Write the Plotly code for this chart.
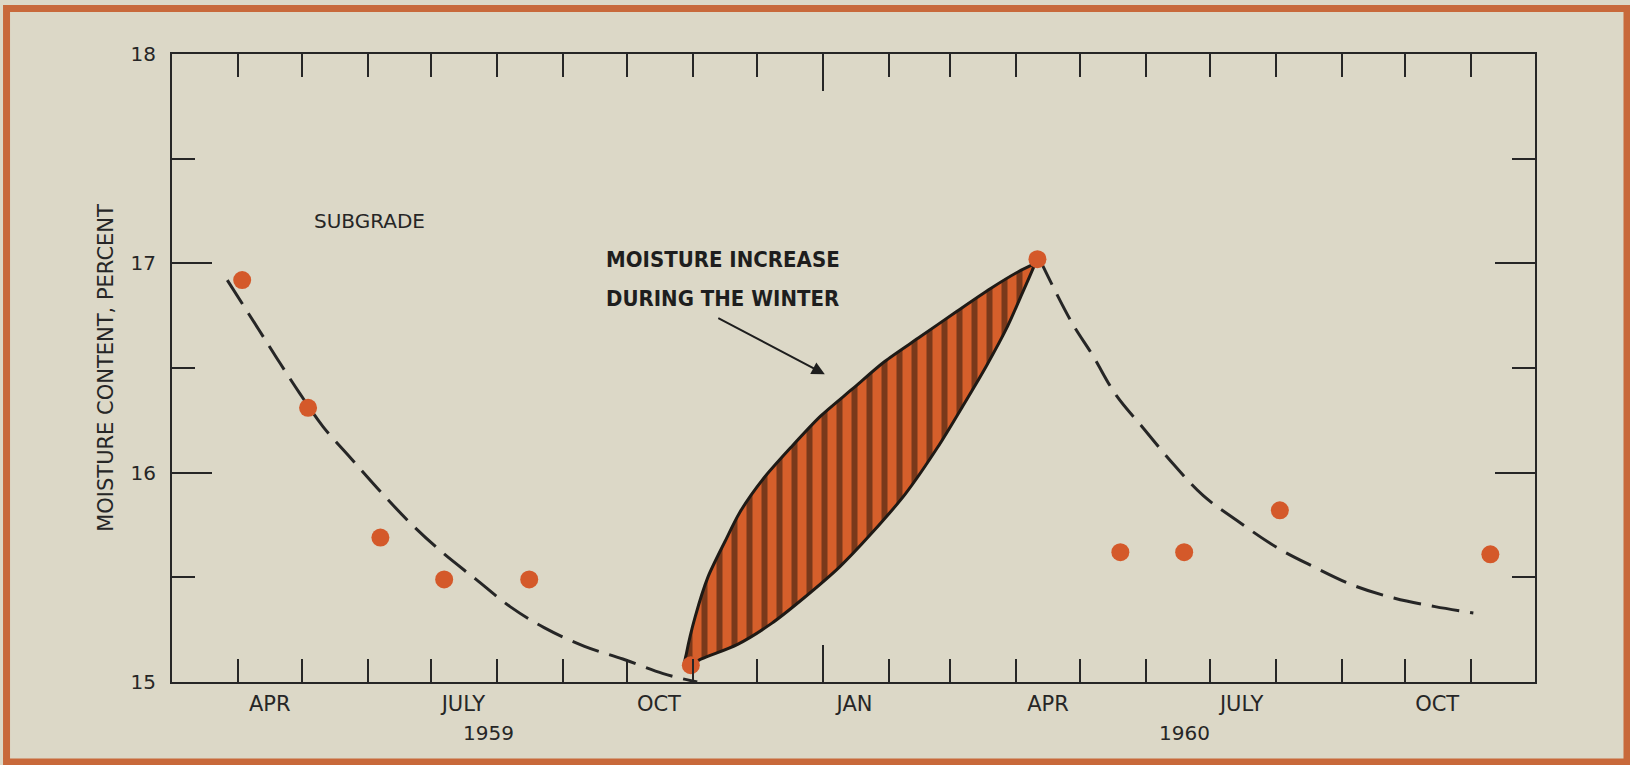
import plotly.graph_objects as go

# ---- data ----
point_dates = ["1959-04-03", "1959-05-04", "1959-06-07", "1959-07-07", "1959-08-16",
               "1959-10-31", "1960-04-11", "1960-05-20", "1960-06-19", "1960-08-03", "1960-11-10"]
point_values = [16.92, 16.31, 15.69, 15.49, 15.49, 15.08, 17.02, 15.62, 15.62, 15.82, 15.61]

trend1_dates = ["1959-03-27", "1959-04-11", "1959-04-21", "1959-04-30", "1959-05-11", "1959-05-24",
                "1959-06-07", "1959-06-22", "1959-07-06", "1959-07-22", "1959-08-07", "1959-08-23",
                "1959-09-11", "1959-09-29", "1959-10-18", "1959-11-03"]
trend1_values = [16.92, 16.68, 16.52, 16.38, 16.22, 16.07, 15.91, 15.75, 15.62, 15.49, 15.36, 15.26,
                 15.17, 15.11, 15.04, 15.00]

trend2_dates = ["1960-04-12", "1960-04-27", "1960-05-07", "1960-05-18", "1960-05-31", "1960-06-14",
                "1960-06-28", "1960-07-14", "1960-08-02", "1960-08-19", "1960-09-07", "1960-09-26",
                "1960-10-15", "1960-11-02"]
trend2_values = [17.02, 16.72, 16.56, 16.37, 16.21, 16.04, 15.89, 15.77, 15.64, 15.55, 15.46, 15.40,
                 15.36, 15.33]

winter_upper_dates = ["1959-10-28", "1959-10-29", "1959-11-02", "1959-11-08", "1959-11-16", "1959-11-23",
                      "1959-12-04", "1959-12-17", "1959-12-31", "1960-01-15", "1960-01-30", "1960-02-16",
                      "1960-03-04", "1960-03-20", "1960-04-02", "1960-04-10"]
winter_upper_values = [15.07, 15.14, 15.31, 15.50, 15.67, 15.81, 15.97, 16.12, 16.27, 16.40, 16.53, 16.65,
                       16.77, 16.88, 16.96, 17.00]
winter_lower_dates = ["1959-10-28", "1959-11-05", "1959-11-22", "1959-12-08", "1959-12-23", "1960-01-09",
                      "1960-01-24", "1960-02-09", "1960-02-24", "1960-03-07", "1960-03-18", "1960-03-28",
                      "1960-04-04", "1960-04-10"]
winter_lower_values = [15.07, 15.11, 15.18, 15.28, 15.40, 15.55, 15.71, 15.90, 16.12, 16.32, 16.51, 16.70,
                       16.86, 17.00]

month_ticks = ["1959-04-01", "1959-05-01", "1959-06-01", "1959-07-01", "1959-08-01", "1959-09-01",
               "1959-10-01", "1959-11-01", "1959-12-01", "1960-01-01", "1960-02-01", "1960-03-01",
               "1960-04-01", "1960-05-01", "1960-06-01", "1960-07-01", "1960-08-01", "1960-09-01",
               "1960-10-01", "1960-11-01"]
year_tick = ["1960-01-01"]
month_label_dates = ["1959-04-16", "1959-07-16", "1959-10-16", "1960-01-16", "1960-04-16",
                     "1960-07-16", "1960-10-16"]
month_labels = ["APR", "JULY", "OCT", "JAN", "APR", "JULY", "OCT"]
year_labels = ["1959", "1960"]
year_label_dates = ["1959-07-28", "1960-06-19"]
y_ticks = [15, 16, 17, 18]
callout_lines = ["MOISTURE INCREASE", "DURING THE WINTER"]
callout_line_y = [17.02, 16.83]

BG = "#dcd8c7"
INK = "#262626"
ORANGE = "#d65f2b"
FONT = "DejaVu Sans, Verdana, sans-serif"
NARROW = "DejaVu Sans Condensed, Liberation Sans Narrow, Roboto Condensed, sans-serif"
X_RANGE = ["1959-03-01", "1960-12-01"]

fig = go.Figure()

# lens shaped winter increase (upper boundary forward, lower boundary back)
lens_x = winter_upper_dates + winter_lower_dates[::-1]
lens_y = winter_upper_values + winter_lower_values[::-1]
fig.add_trace(go.Scatter(
    x=lens_x, y=lens_y, mode="lines", fill="toself",
    line=dict(color="#1e1a16", width=3, shape="spline", smoothing=0.8),
    fillcolor=ORANGE,
    fillpattern=dict(shape="|", fgcolor="#1c130c", bgcolor=ORANGE, size=15, solidity=0.4),
    hoverinfo="skip", showlegend=False))

for xs, ys in [(trend1_dates, trend1_values), (trend2_dates, trend2_values)]:
    fig.add_trace(go.Scatter(
        x=xs, y=ys, mode="lines",
        line=dict(color=INK, width=3, dash="28px,11px", shape="spline"),
        hoverinfo="skip", showlegend=False))

fig.add_trace(go.Scatter(
    x=point_dates, y=point_values, mode="markers",
    marker=dict(size=18, color="#d4592a", line=dict(width=0)),
    showlegend=False))

# label axis (month names centred in month)
fig.add_trace(go.Scatter(x=month_label_dates, y=[None] * len(month_label_dates),
                         xaxis="x2", yaxis="y", showlegend=False, hoverinfo="skip"))

fig.update_layout(
    width=1630, height=765,
    margin=dict(l=172, r=95, t=54, b=83),
    paper_bgcolor=BG, plot_bgcolor=BG,
    font=dict(family=FONT, color=INK, size=20),
    xaxis=dict(
        type="date", range=X_RANGE,
        tickmode="array", tickvals=year_tick, ticks="inside", ticklen=37, tickwidth=2,
        tickcolor=INK, showticklabels=False,
        minor=dict(tickmode="array", tickvals=month_ticks, ticks="inside", ticklen=23,
                   tickwidth=2, tickcolor=INK, showgrid=False),
        showline=True, linecolor=INK, linewidth=2, mirror="ticks",
        showgrid=False, zeroline=False,
    ),
    xaxis2=dict(
        type="date", range=X_RANGE, overlaying="x", anchor="y", side="bottom",
        tickmode="array", tickvals=month_label_dates, ticktext=month_labels,
        ticks="", showline=False, showgrid=False, zeroline=False,
        tickfont=dict(family=FONT, size=21, color=INK), ticklabelstandoff=7,
    ),
    yaxis=dict(
        range=[15, 18], tickmode="array", tickvals=y_ticks,
        ticks="inside", ticklen=40, tickwidth=2, tickcolor=INK,
        minor=dict(dtick=0.5, ticks="inside", ticklen=23, tickwidth=2, tickcolor=INK, showgrid=False),
        showline=True, linecolor=INK, linewidth=2, mirror="ticks",
        showgrid=False, zeroline=False,
        tickfont=dict(family=FONT, size=20, color=INK), ticklabelstandoff=10,
        title=dict(text="MOISTURE CONTENT, PERCENT", font=dict(family=FONT, size=21, color=INK),
                   standoff=11),
    ),
)

# year labels
for lbl, d in zip(year_labels, year_label_dates):
    fig.add_annotation(x=d, y=-0.081, xref="x", yref="paper", text=lbl, showarrow=False,
                       font=dict(family=FONT, size=20, color=INK), xanchor="center", yanchor="middle")

fig.add_annotation(x="1959-06-02", y=17.2, text="SUBGRADE", showarrow=False,
                   font=dict(family=FONT, size=20, color=INK), xanchor="center", yanchor="middle")

for txt, yv in zip(callout_lines, callout_line_y):
    fig.add_annotation(x="1959-09-20", y=yv, text=txt, showarrow=False,
                       xanchor="left", yanchor="middle",
                       font=dict(family=NARROW, size=22, color="#1e1e1e", weight="bold"))
fig.add_annotation(x="1960-01-02", y=16.47, ax=-108, ay=-57, text="", showarrow=True,
                   arrowhead=2, arrowsize=1.3, arrowwidth=2, arrowcolor="#1e1e1e")

# outer frame around whole picture
fig.add_shape(type="rect", xref="paper", yref="paper",
              x0=-0.1214, x1=1.0675, y0=-0.1274, y1=1.0725,
              line=dict(color="#c8693b", width=7), fillcolor="rgba(0,0,0,0)", layer="below")

fig.write_html("out.html", config={"displayModeBar": False},
               post_script="document.body.style.margin='0px';document.body.style.background='#e4e1d3';")
